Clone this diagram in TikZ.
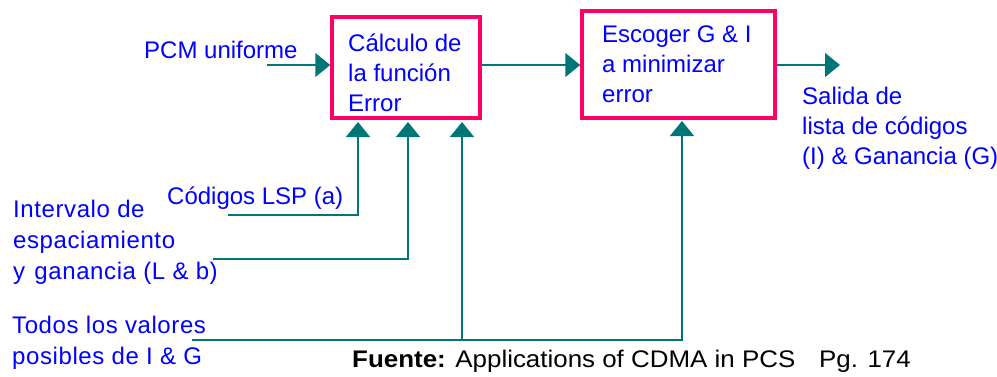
\documentclass[tikz,border=0pt]{standalone}
\usepackage{fontspec}
\setmainfont{Liberation Sans}
\usetikzlibrary{arrows.meta,positioning}

\definecolor{boxred}{RGB}{255,0,102}
\definecolor{flowteal}{RGB}{0,118,118}
\definecolor{txtblue}{RGB}{0,0,255}

\tikzset{
  blockbox/.style={draw=boxred, line width=3.5pt, fill=white, inner sep=0pt},
  lbl/.style={text=txtblue, font=\fontsize{24}{30}\selectfont, align=left, inner sep=0pt, anchor=west},
  widelbl/.style={lbl, font=\fontsize{24}{31}\selectfont\addfontfeature{LetterSpace=2.5}},
  flow/.style={draw=flowteal, line width=1.5pt, -{Triangle[length=15pt,width=24pt]}},
  feed/.style={draw=flowteal, line width=1.5pt}
}

\begin{document}
\begin{tikzpicture}[x=1pt, y=-1pt]
    \useasboundingbox (0,0) rectangle (997,376);

    % Blocks
    \node[blockbox, minimum width=148pt, minimum height=101pt] (calc) at (406,67.5) {};
    \node[blockbox, minimum width=193pt, minimum height=107pt] (esc) at (678.5,64.5) {};
    \node[lbl] (calcTxt) at (348,73) {Cálculo de\\la función\\Error};
    \node[lbl] (escTxt) at (602,64) {Escoger G \& I\\a minimizar\\error};

    % Main signal path
    \coordinate (pcmIn) at (267,65);
    \coordinate (outEnd) at (840,65);
    \draw[flow] (pcmIn) -- (pcmIn -| calc.west);
    \draw[flow] (calc.east |- pcmIn) -- (esc.west |- pcmIn);
    \draw[flow] (esc.east |- pcmIn) -- (outEnd);
    \node[lbl] (pcmTxt) at (144,50) {PCM uniforme};
    \node[lbl] (outTxt) at (802,128) {Salida de\\lista de códigos\\(I) \& Ganancia (G)};

    % Side inputs
    \coordinate (tipA) at (358,122);
    \coordinate (tipB) at (408,122);
    \coordinate (tipC) at (462,122);
    \coordinate (tipD) at (682,121);
    \coordinate (lspIn) at (228,215);
    \coordinate (intIn) at (213,259);
    \coordinate (allIn) at (192,340);
    \draw[flow] (lspIn) -| (tipA);
    \draw[flow] (intIn) -| (tipB);
    \draw[flow] (allIn) -| (tipD);
    \draw[flow] (allIn -| tipC) -- (tipC);

    \node[lbl] (lspTxt) at (167,198) {Códigos LSP (a)};
    \node[widelbl] (intTxt) at (13,242) {Intervalo de\\espaciamiento\\y\hspace{2pt} ganancia (L \& b)};
    \node[widelbl] (allTxt) at (12,343) {Todos los valores\\posibles de I \& G};

    % Source note
    \node[lbl, text=black] (srcTxt) at (352,361)
        {\scalebox{1.08}[1]{\textbf{Fuente:} Applications of CDMA in PCS\hspace{22pt}Pg. 174}};
\end{tikzpicture}
\end{document}
